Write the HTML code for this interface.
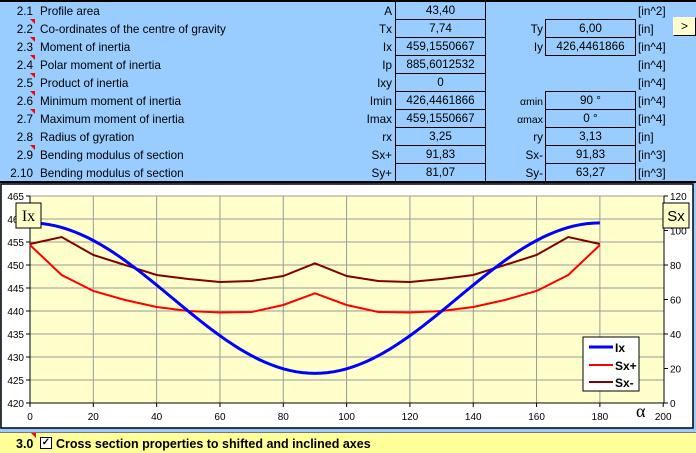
<!DOCTYPE html>
<html><head><meta charset="utf-8"><style>
body{margin:0;width:696px;height:453px;background:#99ccff;position:relative;overflow:hidden;font-family:"Liberation Sans",sans-serif;font-size:11.7px;color:#000}
.a{position:absolute;white-space:nowrap;line-height:18px}
.box{position:absolute;border:1px solid #000;box-sizing:border-box;text-align:center;line-height:18px;height:19px}
.r{text-align:right}
.tri{position:absolute;width:0;height:0;border-top:5px solid #f00;border-left:5px solid transparent}
</style></head><body>
<div style="position:absolute;left:0;top:0;width:696px;height:2px;background:#000"></div>
<div style="position:absolute;left:0;top:181px;width:696px;height:2px;background:#000"></div>
<div id="t"></div>
<div style="position:absolute;left:673px;top:17px;width:23px;height:19px;background:#ffffcc;border:1px solid #fff;border-right-color:#000;border-bottom-color:#000;box-sizing:border-box;text-align:center;line-height:17px;font-size:12px">&gt;</div>
<svg style="position:absolute;left:0;top:0" width="696" height="453" id="s"></svg>
<div style="position:absolute;left:0;top:432px;width:696px;height:21px;background:#ffff99;border-top:1px solid #777;box-sizing:border-box"></div>
<div class="a" style="left:16px;top:435px;font-weight:bold;font-size:12.5px">3.0</div>
<div class="tri" style="left:31px;top:433px"></div>
<div style="position:absolute;left:40px;top:437px;width:10px;height:10px;border:1px solid #000;background:#fff;font-size:10px;line-height:10px;text-align:center;font-weight:bold">✓</div>
<div class="a" style="left:56px;top:435px;font-weight:bold;font-size:12.5px">Cross section properties to shifted and inclined axes</div>
<script>
var rows=[["2.1","Profile area","A","43,40","","","[in^2]"],["2.2","Co-ordinates of the centre of gravity","Tx","7,74","Ty","6,00","[in]"],["2.3","Moment of inertia","Ix","459,1550667","Iy","426,4461866","[in^4]"],["2.4","Polar moment of inertia","Ip","885,6012532","","","[in^4]"],["2.5","Product of inertia","Ixy","0","","","[in^4]"],["2.6","Minimum moment of inertia","Imin","426,4461866","αmin","90 °","[in^4]"],["2.7","Maximum moment of inertia","Imax","459,1550667","αmax","0 °","[in^4]"],["2.8","Radius of gyration","rx","3,25","ry","3,13","[in]"],["2.9","Bending modulus of section","Sx+","91,83","Sx-","91,83","[in^3]"],["2.10","Bending modulus of section","Sy+","81,07","Sy-","63,27","[in^3]"]];
var h="";rows.forEach(function(r,i){var y=i*18+3;
h+='<div class="a r" style="left:0;width:33px;top:'+y+'px">'+r[0]+'</div><div class="a" style="left:40px;top:'+y+'px">'+r[1]+'</div><div class="a r" style="left:340px;width:52px;top:'+y+'px">'+r[2]+'</div><div class="box" style="left:395px;width:91px;top:'+(i*18+1)+'px">'+r[3]+'</div>';
if(r[4])h+='<div class="a r" style="left:490px;width:53px;top:'+y+'px'+(r[4][0]=="α"?';font-size:10.5px':'')+'">'+r[4]+'</div><div class="box" style="left:545px;width:91px;top:'+(i*18+1)+'px">'+r[5]+'</div>';
h+='<div class="a" style="left:638px;top:'+y+'px">'+r[6]+'</div>';
if(i>0&&i!=7&&i<9)h+='<div class="tri" style="left:30px;top:'+(i*18+1)+'px"></div>';});
document.getElementById("t").innerHTML=h;
var X=function(a){return 30+a*3.166};
var s='<rect x="1" y="184" width="692" height="244" fill="#fff" stroke="#000" stroke-width="1.5"/><rect x="30" y="196" width="634" height="207" fill="#ffffcc"/>';
for(var k=1;k<10;k++){var y=403-k*23;s+='<line x1="30" x2="664" y1="'+y+'" y2="'+y+'" stroke="#999"/>';}
for(var k=1;k<10;k++){var x=X(k*20);s+='<line y1="196" y2="403" x1="'+x+'" x2="'+x+'" stroke="#999"/>';}
s+='<line x1="30" y1="196" x2="30" y2="403" stroke="#000"/><line x1="30" y1="403" x2="664" y2="403" stroke="#000"/><line x1="664" y1="196" x2="664" y2="403" stroke="#000"/>';
for(var k=0;k<10;k++){var y=403-k*23;s+='<line x1="26" x2="30" y1="'+y+'" y2="'+y+'" stroke="#000"/><text x="24" y="'+(y+4)+'" font-size="10" text-anchor="end" font-family="Liberation Sans,sans-serif">'+(420+k*5)+'</text>';}
for(var k=0;k<7;k++){var y=403-k*34.5;s+='<line x1="664" x2="668" y1="'+y+'" y2="'+y+'" stroke="#000"/><text x="670" y="'+(y+4)+'" font-size="10" font-family="Liberation Sans,sans-serif">'+(k*20)+'</text>';}
for(var k=0;k<11;k++){var x=X(k*20);s+='<line y1="403" y2="407" x1="'+x+'" x2="'+x+'" stroke="#000"/><text x="'+x+'" y="420" font-size="10" text-anchor="middle" font-family="Liberation Sans,sans-serif">'+(k*20)+'</text>';}
function half(p){var pts=[];for(var i=0;i<p.length;i++)pts.push([i*10,p[i]]);for(var i=p.length-2;i>=0;i--)pts.push([180-i*10,p[i]]);return pts.map(function(q){return X(q[0])+','+q[1]}).join(' ');}
var ix=[];for(var a=0;a<=180;a+=2){ix.push(X(a)+','+(403-(442.8+16.35*Math.cos(a*Math.PI/90)-420)*4.6));}
s+='<polyline points="'+half([244,237,255,265,275,279,282,281,276,263.3])+'" fill="none" stroke="#800000" stroke-width="2"/>';
s+='<polyline points="'+half([245,275,291,300,307,311,312.5,312,305,293.3])+'" fill="none" stroke="#f00" stroke-width="2"/>';
s+='<polyline points="'+ix.join(' ')+'" fill="none" stroke="#00f" stroke-width="3"/>';
s+='<rect x="16" y="203" width="25" height="25" fill="#ffffcc" stroke="#000"/><text x="28.5" y="221" font-size="16" text-anchor="middle" font-family="Liberation Serif,serif">Ix</text>';
s+='<rect x="663" y="203" width="26" height="25" fill="#ffffcc" stroke="#000"/><text x="676" y="221" font-size="15" text-anchor="middle" font-family="Liberation Sans,sans-serif">Sx</text>';
s+='<text x="636" y="417" font-size="18" font-family="Liberation Serif,serif">α</text>';
s+='<rect x="583" y="337" width="56" height="54" fill="#fff" stroke="#000"/>';
[["#00f",3,"Ix",352],["#f00",2,"Sx+",370],["#800000",2,"Sx-",387]].forEach(function(l){s+='<line x1="589" x2="613" y1="'+(l[3]-5)+'" y2="'+(l[3]-5)+'" stroke="'+l[0]+'" stroke-width="'+l[1]+'"/><text x="615" y="'+l[3]+'" font-size="12" font-weight="bold" font-family="Liberation Sans,sans-serif">'+l[2]+'</text>';});
document.getElementById("s").innerHTML=s;
</script>
</body></html>
